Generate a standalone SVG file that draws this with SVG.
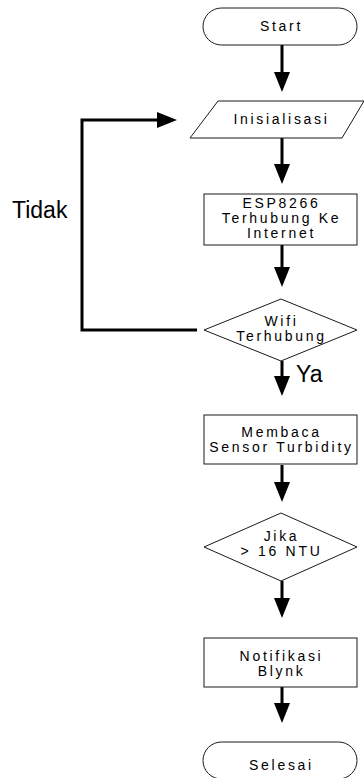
<svg xmlns="http://www.w3.org/2000/svg" width="364" height="778" viewBox="0 0 364 778">
<style>
.shape{fill:#fff;stroke:#1a1a1a;stroke-width:1}
.t{font-family:"Liberation Sans",Arial,sans-serif;font-size:14px;letter-spacing:2.7px;text-anchor:middle;fill:#000}
.big{font-family:"Liberation Sans",Arial,sans-serif;font-size:23px;fill:#000}
.c{fill:none;stroke:#000;stroke-width:3;marker-end:url(#ah)}
</style>
<defs>
<marker id="ah" markerUnits="userSpaceOnUse" markerWidth="20" markerHeight="16" refX="1" refY="8" orient="auto">
<path d="M0,0 L20,8 L0,16 z" fill="#000"/>
</marker>
</defs>
<rect width="364" height="778" fill="#fff"/>
<g id="connectors">
<path class="c" d="M282,45 V73"/>
<path class="c" d="M282,138 V165"/>
<path class="c" d="M282,245 V268"/>
<path class="c" d="M282,361 V377"/>
<path class="c" d="M282,465 V483"/>
<path class="c" d="M282,581 V599"/>
<path class="c" d="M282,687 V704"/>
<path class="c" d="M197,330 H82 V120 H158"/>
</g>
<g id="start">
<rect class="shape" x="203" y="8" width="154" height="37" rx="18.5"/>
<text class="t" x="281.5" y="31">Start</text>
</g>
<g id="inisialisasi">
<polygon class="shape" points="218,101 364,101 342,138 190,138"/>
<text class="t" x="281.5" y="124">Inisialisasi</text>
</g>
<g id="esp">
<rect class="shape" x="204" y="194" width="153" height="51"/>
<text class="t" x="281.5" y="208">ESP8266</text>
<text class="t" x="281.5" y="223">Terhubung Ke</text>
<text class="t" x="281.5" y="238">Internet</text>
</g>
<g id="wifi">
<polygon class="shape" points="204,330 281,299 357,330 281,361"/>
<text class="t" x="281.5" y="326">Wifi</text>
<text class="t" x="281.5" y="341">Terhubung</text>
</g>
<g id="membaca">
<rect class="shape" x="204" y="415" width="153" height="49"/>
<text class="t" x="281.5" y="437">Membaca</text>
<text class="t" x="281.5" y="452">Sensor Turbidity</text>
</g>
<g id="jika">
<polygon class="shape" points="204,547 281,513 357,547 281,581"/>
<text class="t" x="281.5" y="541">Jika</text>
<text class="t" x="281.5" y="556">&gt; 16 NTU</text>
</g>
<g id="notifikasi">
<rect class="shape" x="204" y="638" width="153" height="49"/>
<text class="t" x="281.5" y="661">Notifikasi</text>
<text class="t" x="281.5" y="676">Blynk</text>
</g>
<g id="selesai">
<rect class="shape" x="203" y="742" width="154" height="37" rx="18.5"/>
<text class="t" x="281.5" y="770">Selesai</text>
</g>
<g id="labels">
<text class="big" x="12" y="218">Tidak</text>
<text class="big" x="296" y="382">Ya</text>
</g>
</svg>
